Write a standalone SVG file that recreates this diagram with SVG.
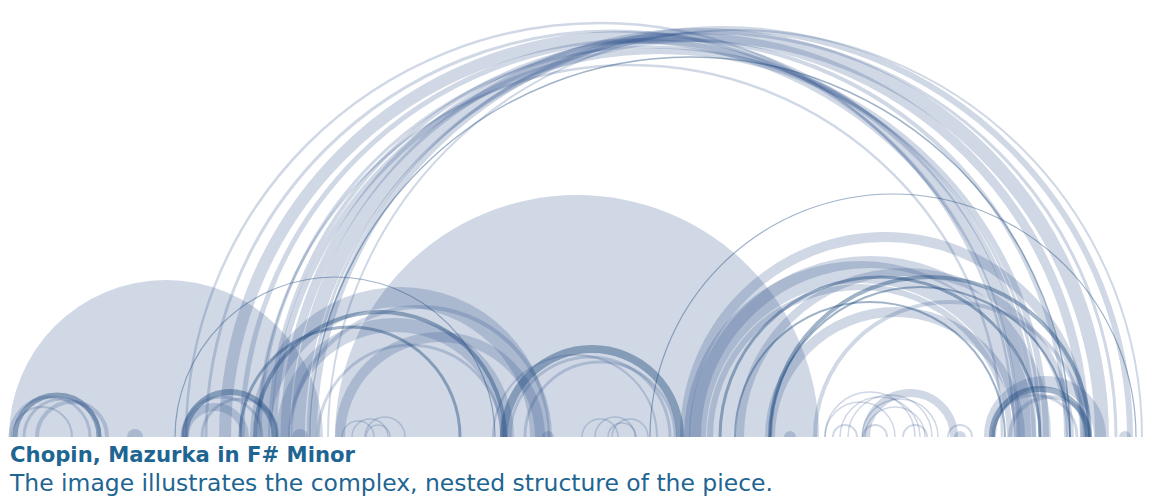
<svg xmlns="http://www.w3.org/2000/svg" width="1154" height="504" viewBox="0 0 1154 504">
<style>
.a{fill:none;stroke:#2b4f8a;stroke-opacity:0.22}
.d{fill:none;stroke:#1d4a7c;stroke-opacity:0.42}
.f{fill:#2b4f8a;fill-opacity:0.22;stroke:none}
.t1{font-family:"DejaVu Sans","Liberation Sans",sans-serif;font-weight:bold;font-size:22px;fill:#1e6592}
.t2{font-family:"DejaVu Sans","Liberation Sans",sans-serif;font-size:23px;fill:#1e6592}
</style>
<defs>
<clipPath id="cp"><rect x="0" y="0" width="1154" height="437"/></clipPath>
</defs>
<rect width="1154" height="504" fill="#ffffff"/>
<g id="arcs" clip-path="url(#cp)">
<g id="disks">
<circle class="f" cx="166" cy="437" r="157"/>
<circle class="f" cx="577" cy="437" r="242"/>
<circle class="f" cx="135" cy="437" r="8"/>
<circle class="f" cx="300" cy="437" r="8"/>
<circle class="f" cx="548" cy="437" r="6"/>
<circle class="f" cx="790" cy="437" r="6"/>
<circle class="f" cx="960" cy="437" r="6"/>
<circle class="f" cx="1125" cy="437" r="6"/>
</g>
<g id="big">
<circle class="a" cx="600" cy="437" r="414" stroke-width="2.5"/>
<circle class="a" cx="612" cy="437" r="406" stroke-width="3"/>
<circle class="a" cx="625" cy="437" r="400" stroke-width="12"/>
<circle class="a" cx="638" cy="437" r="396" stroke-width="5"/>
<circle class="a" cx="650" cy="437" r="390" stroke-width="3"/>
<circle class="a" cx="668" cy="437" r="398" stroke-width="4"/>
<circle class="a" cx="685" cy="437" r="400" stroke-width="9"/>
<circle class="a" cx="700" cy="437" r="402" stroke-width="14"/>
<circle class="a" cx="712" cy="437" r="404" stroke-width="3"/>
<circle class="a" cx="722" cy="437" r="408" stroke-width="6"/>
<circle class="a" cx="735" cy="437" r="407" stroke-width="2"/>
<circle class="d" cx="690" cy="437" r="380" stroke-width="1.5"/>
<circle class="a" cx="630" cy="437" r="372" stroke-width="2.5"/>
<circle class="a" cx="660" cy="437" r="386" stroke-width="6"/>
</g>
<g id="rightmid">
<circle class="d" cx="893" cy="437" r="243" stroke-width="1.2"/>
<circle class="a" cx="885" cy="437" r="200" stroke-width="10"/>
<circle class="a" cx="860" cy="437" r="165" stroke-width="22"/>
<circle class="a" cx="870" cy="437" r="175" stroke-width="12"/>
<circle class="a" cx="905" cy="437" r="165" stroke-width="8"/>
<circle class="d" cx="880" cy="437" r="160" stroke-width="3"/>
<circle class="d" cx="930" cy="437" r="160" stroke-width="4"/>
<circle class="a" cx="860" cy="437" r="150" stroke-width="6"/>
<circle class="d" cx="920" cy="437" r="150" stroke-width="2"/>
<circle class="a" cx="895" cy="437" r="125" stroke-width="10"/>
<circle class="d" cx="870" cy="437" r="135" stroke-width="2"/>
<circle class="a" cx="950" cy="437" r="135" stroke-width="4"/>
</g>
<g id="leftmid">
<circle class="d" cx="335" cy="437" r="160" stroke-width="1.2"/>
<circle class="a" cx="400" cy="437" r="140" stroke-width="20"/>
<circle class="d" cx="380" cy="437" r="125" stroke-width="4"/>
<circle class="a" cx="420" cy="437" r="130" stroke-width="4"/>
<circle class="a" cx="395" cy="437" r="112" stroke-width="14"/>
<circle class="d" cx="350" cy="437" r="110" stroke-width="3"/>
<circle class="a" cx="440" cy="437" r="100" stroke-width="10"/>
<circle class="a" cx="410" cy="437" r="92" stroke-width="3"/>
</g>
<g id="small">
<circle class="d" cx="230" cy="437" r="45" stroke-width="6"/>
<circle class="a" cx="222" cy="437" r="40" stroke-width="3"/>
<circle class="a" cx="240" cy="437" r="38" stroke-width="3"/>
<circle class="a" cx="215" cy="437" r="30" stroke-width="8"/>
<circle class="d" cx="57" cy="437" r="42" stroke-width="5"/>
<circle class="a" cx="62" cy="437" r="38" stroke-width="3"/>
<circle class="a" cx="50" cy="437" r="40" stroke-width="3"/>
<circle class="a" cx="72" cy="437" r="35" stroke-width="4"/>
<circle class="a" cx="42" cy="437" r="30" stroke-width="2"/>
<circle class="d" cx="592" cy="437" r="88" stroke-width="8"/>
<circle class="a" cx="590" cy="437" r="80" stroke-width="3"/>
<circle class="a" cx="600" cy="437" r="75" stroke-width="3"/>
<circle class="a" cx="575" cy="437" r="82" stroke-width="2"/>
<circle class="a" cx="615" cy="437" r="20" stroke-width="1.5"/>
<circle class="a" cx="600" cy="437" r="18" stroke-width="1.5"/>
<circle class="a" cx="630" cy="437" r="18" stroke-width="1.5"/>
<circle class="a" cx="622" cy="437" r="14" stroke-width="1.5"/>
<circle class="a" cx="370" cy="437" r="18" stroke-width="1.5"/>
<circle class="a" cx="385" cy="437" r="20" stroke-width="1.5"/>
<circle class="a" cx="358" cy="437" r="16" stroke-width="1.5"/>
<circle class="a" cx="378" cy="437" r="12" stroke-width="1.5"/>
<circle class="a" cx="870" cy="437" r="45" stroke-width="1.5"/>
<circle class="a" cx="880" cy="437" r="40" stroke-width="1.5"/>
<circle class="a" cx="890" cy="437" r="42" stroke-width="1.5"/>
<circle class="a" cx="900" cy="437" r="38" stroke-width="1.5"/>
<circle class="a" cx="910" cy="437" r="44" stroke-width="8"/>
<circle class="a" cx="860" cy="437" r="35" stroke-width="1.5"/>
<circle class="a" cx="895" cy="437" r="30" stroke-width="1.5"/>
<circle class="a" cx="845" cy="437" r="12" stroke-width="2"/>
<circle class="a" cx="875" cy="437" r="12" stroke-width="2"/>
<circle class="a" cx="915" cy="437" r="12" stroke-width="2"/>
<circle class="a" cx="960" cy="437" r="12" stroke-width="2"/>
<circle class="d" cx="1040" cy="437" r="48" stroke-width="6"/>
<circle class="a" cx="1035" cy="437" r="42" stroke-width="3"/>
<circle class="a" cx="1050" cy="437" r="40" stroke-width="4"/>
<circle class="a" cx="1045" cy="437" r="55" stroke-width="12"/>
</g>
</g>
<g id="caption">
<text class="t1" x="10" y="462" textLength="345" lengthAdjust="spacingAndGlyphs">Chopin, Mazurka in F# Minor</text>
<text class="t2" x="10" y="491" textLength="763" lengthAdjust="spacingAndGlyphs">The image illustrates the complex, nested structure of the piece.</text>
</g>
</svg>
